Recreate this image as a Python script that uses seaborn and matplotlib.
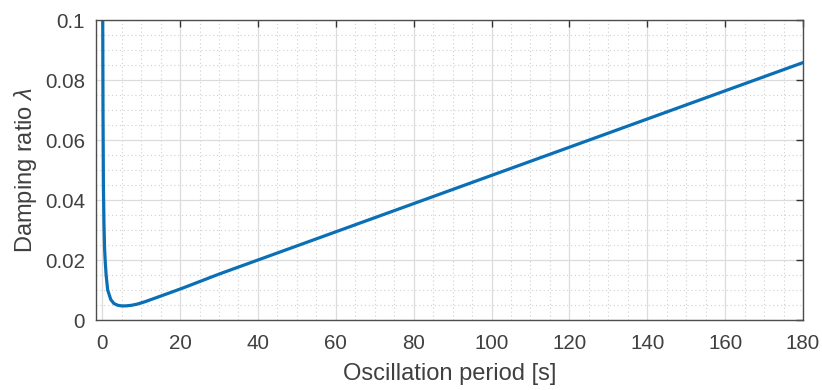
import matplotlib
matplotlib.use("Agg")
import matplotlib.pyplot as plt
from matplotlib.ticker import MultipleLocator, FuncFormatter
import seaborn as sns
import pandas as pd

# Data
period_s = [0.12, 0.2, 0.3, 0.45, 0.6, 0.75, 1.0, 1.4, 2.2, 3.0, 4.0, 5.0, 6.0,
            7.5, 9.0, 11.0, 14.0, 17.0, 21.0, 30.0, 40.0, 60.0, 80.0, 100.0,
            120.0, 140.0, 160.0, 180.0]
damping_ratio = [0.105, 0.070, 0.045, 0.032, 0.024, 0.020, 0.015, 0.010, 0.0068,
                 0.0055, 0.0049, 0.0047, 0.0047, 0.0049, 0.0053, 0.0061, 0.0075,
                 0.0089, 0.0108, 0.0153, 0.0200, 0.0294, 0.0388, 0.0482, 0.0576,
                 0.0670, 0.0764, 0.0858]
x_ticks = [0, 20, 40, 60, 80, 100, 120, 140, 160, 180]
y_ticks = [0, 0.02, 0.04, 0.06, 0.08, 0.1]
x_label = "Oscillation period [s]"
y_label = r"Damping ratio $\lambda$"

sns.set_style("white")
plt.rcParams["font.family"] = ["Liberation Sans", "DejaVu Sans"]
plt.rcParams["mathtext.fontset"] = "custom"
plt.rcParams["mathtext.it"] = "Liberation Sans:italic"
plt.rcParams["mathtext.rm"] = "Liberation Sans"

df = pd.DataFrame({"period": period_s, "damping": damping_ratio})

fig = plt.figure(figsize=(8.22, 3.90), dpi=100)
ax = fig.add_axes([96 / 822, 1 - 320 / 390, (803 - 96) / 822, 300 / 390])

text_col = "#404040"
ax.set_xlim(-1.6, 180)
ax.set_ylim(0, 0.1)
ax.set_xticks(x_ticks)
ax.set_yticks(y_ticks)
ax.xaxis.set_minor_locator(MultipleLocator(5))
ax.yaxis.set_minor_locator(MultipleLocator(0.005))
ax.yaxis.set_major_formatter(FuncFormatter(lambda v, p: "{:g}".format(round(v, 4))))

ax.grid(True, which="major", color="#dcdcdc", linewidth=0.9, linestyle="-")
ax.grid(True, which="minor", color="#cfcfcf", linewidth=0.8, linestyle=(0, (1, 2.5)))
ax.set_axisbelow(True)

sns.lineplot(data=df, x="period", y="damping", ax=ax, color="#0a6fb5",
             linewidth=2.3, sort=False, estimator=None)

ax.tick_params(which="major", direction="in", length=5, width=1.0,
               top=True, right=True, color="#333333",
               labelsize=14.8, labelcolor=text_col)
ax.tick_params(axis="x", pad=10)
ax.tick_params(axis="y", pad=8)
ax.tick_params(which="minor", length=0)
for s in ax.spines.values():
    s.set_color("#4d4d4d")
    s.set_linewidth(1.0)

ax.set_xlabel(x_label, fontsize=17, color=text_col, labelpad=7)
ax.set_ylabel(y_label, fontsize=17, color=text_col, labelpad=4)

fig.savefig("out.png", dpi=100)
